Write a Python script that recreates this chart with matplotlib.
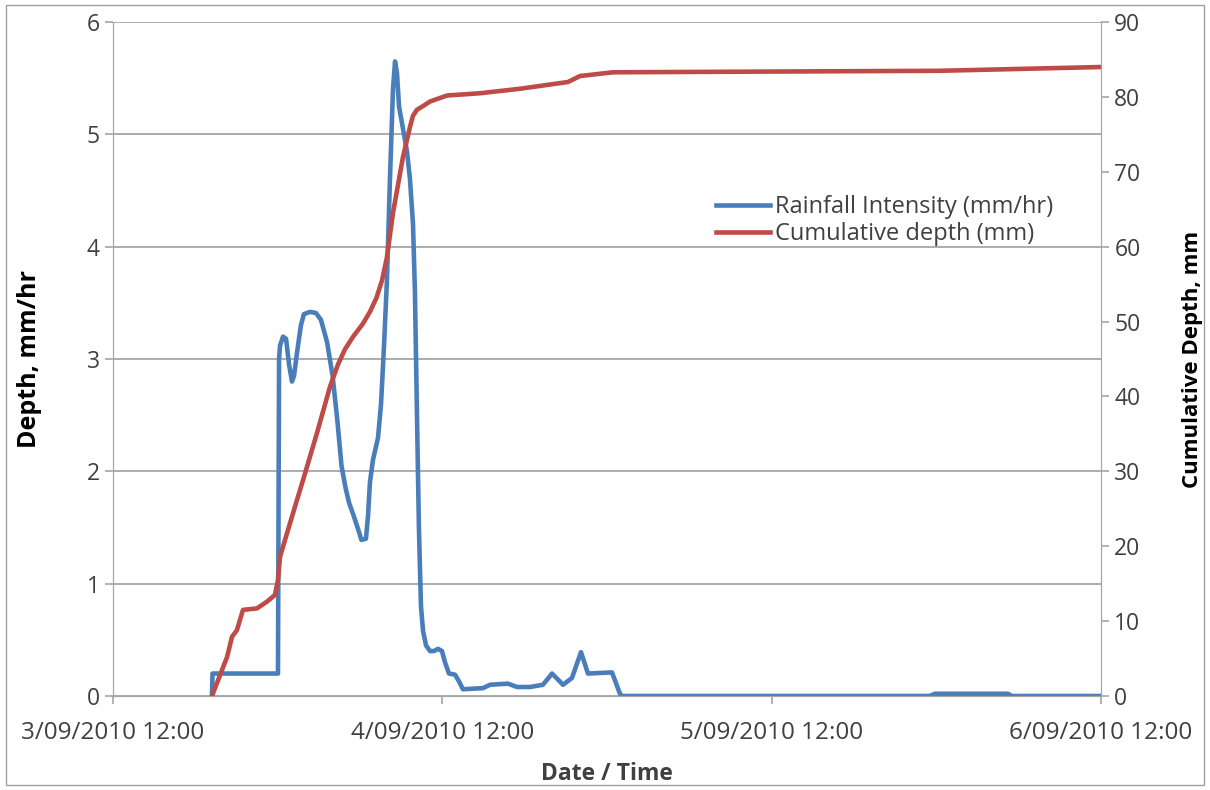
import pandas as pd
import matplotlib
matplotlib.use("Agg")
import matplotlib.pyplot as plt
import matplotlib.dates as mdates
from matplotlib.ticker import FuncFormatter
from matplotlib.patches import Rectangle

# hours after 3/09/2010 12:00
rain_hours = [7.21, 7.25, 12.02, 12.1, 12.17, 12.39, 12.61, 12.83, 13.04, 13.19, 13.4, 13.69,
              13.91, 14.35, 14.79, 15.15, 15.6, 16.0, 16.35, 16.65, 16.95, 17.2, 17.55,
              17.9, 18.1, 18.43, 18.58, 18.72, 18.94, 19.31, 19.53, 19.74, 19.96, 20.18,
              20.4, 20.55, 20.69, 20.84, 21.13, 21.42, 21.64, 21.86, 22.0, 22.15, 22.29,
              22.44, 22.59, 22.81, 23.1, 23.39, 23.68, 23.97, 24.19, 24.48, 24.92, 25.21,
              25.5, 26.96, 27.47, 28.78, 29.44, 30.38, 31.33, 31.99, 32.79, 33.44, 34.1,
              34.61, 36.36, 36.94, 37.09, 59.5, 59.9, 65.2, 65.5, 72.0]
rain_intensity = [0.0, 0.2, 0.2, 3.0, 3.12, 3.2, 3.18, 2.95, 2.8, 2.85, 3.05, 3.3,
                  3.4, 3.42, 3.41, 3.35, 3.15, 2.85, 2.45, 2.05, 1.85, 1.72, 1.6,
                  1.47, 1.39, 1.4, 1.6, 1.9, 2.1, 2.3, 2.6, 3.1, 3.7, 4.6,
                  5.4, 5.65, 5.55, 5.25, 5.05, 4.85, 4.6, 4.2, 3.6, 2.5, 1.5,
                  0.8, 0.58, 0.45, 0.4, 0.4, 0.42, 0.4, 0.3, 0.2, 0.19, 0.13,
                  0.06, 0.07, 0.1, 0.11, 0.08, 0.08, 0.1, 0.2, 0.1, 0.16, 0.39,
                  0.2, 0.21, 0.02, 0.0, 0.0, 0.02, 0.02, 0.0, 0.0]

cum_hours = [7.21, 7.8, 8.31, 8.67, 9.03, 9.47, 10.49, 11.22, 11.8, 12.02, 12.17, 12.9,
             13.84, 14.86, 15.81, 16.4, 16.9, 17.5, 18.2, 18.72, 19.2, 19.6, 19.96, 20.4,
             21.13, 21.64, 21.86, 22.15, 22.6, 23.1, 24.34, 26.74, 29.65, 33.15, 34.03,
             36.43, 60.25, 71.9]
cum_depth = [0.0, 2.8, 5.2, 7.9, 8.8, 11.5, 11.7, 12.6, 13.5, 15.5, 18.6, 23.1,
             28.8, 35.1, 41.3, 44.3, 46.3, 48.0, 49.7, 51.3, 53.2, 55.5, 58.6, 64.5,
             72.0, 76.0, 77.5, 78.3, 78.8, 79.4, 80.2, 80.5, 81.1, 82.0, 82.8,
             83.3, 83.5, 84.0]

start = pd.Timestamp("2010-09-03 12:00")
rain_t = start + pd.to_timedelta(rain_hours, unit="h")
cum_t = start + pd.to_timedelta(cum_hours, unit="h")
tick_t = [start + pd.Timedelta(days=d) for d in range(4)]

plt.rcParams['font.family'] = ['Open Sans', 'DejaVu Sans']
txt = '#404040'
grid = '#a6a6a6'

fig = plt.figure(figsize=(12.1, 7.9), dpi=100)
ax = fig.add_axes([0.0934, 0.119, 0.8166, 0.853])
ax2 = ax.twinx()

l1, = ax.plot(rain_t, rain_intensity, color='#4a7ebb', lw=3.3, solid_joinstyle='round',
              label='Rainfall Intensity (mm/hr)')
l2, = ax2.plot(cum_t, cum_depth, color='#be4b48', lw=3.3, solid_joinstyle='round',
               label='Cumulative depth (mm)')

ax.set_xlim(tick_t[0], tick_t[-1])
ax.set_ylim(0, 6)
ax2.set_ylim(0, 90)
ax.set_yticks(range(7))
ax2.set_yticks(range(0, 91, 10))
ax.set_xticks(tick_t)
ax.xaxis.set_major_formatter(FuncFormatter(
    lambda v, p: mdates.num2date(v).strftime('%d/%m/%Y %H:%M').lstrip('0')))

ax.yaxis.grid(True, color=grid, lw=1.3)
ax.set_axisbelow(True)
for a in (ax, ax2):
    for s in a.spines.values():
        s.set_color(grid)
    a.spines['top'].set_visible(False)
    a.tick_params(colors=grid, labelcolor=txt, labelsize=16.5, length=6, width=1.2)
ax.tick_params(axis='x', labelsize=17.5, pad=12)

ax.set_ylabel('Depth, mm/hr', fontsize=18, fontweight='bold', color='black', labelpad=32)
ax2.set_ylabel('Cumulative Depth, mm', fontsize=16, fontweight='bold', color='black', labelpad=30)
ax.set_xlabel('Date / Time', fontsize=16.5, fontweight='bold', color=txt, labelpad=12)

fig.legend(handles=[l1, l2], loc='upper left', bbox_to_anchor=(0.574, 0.78),
           frameon=False, fontsize=17, handlelength=2.3, handletextpad=0.2,
           labelspacing=0.12, labelcolor=txt)

fig.patches.append(Rectangle((0.005, 0.006), 0.99, 0.988, transform=fig.transFigure,
                             fill=False, edgecolor='#a0a0a0', lw=1))

fig.savefig('out.png', dpi=100)
